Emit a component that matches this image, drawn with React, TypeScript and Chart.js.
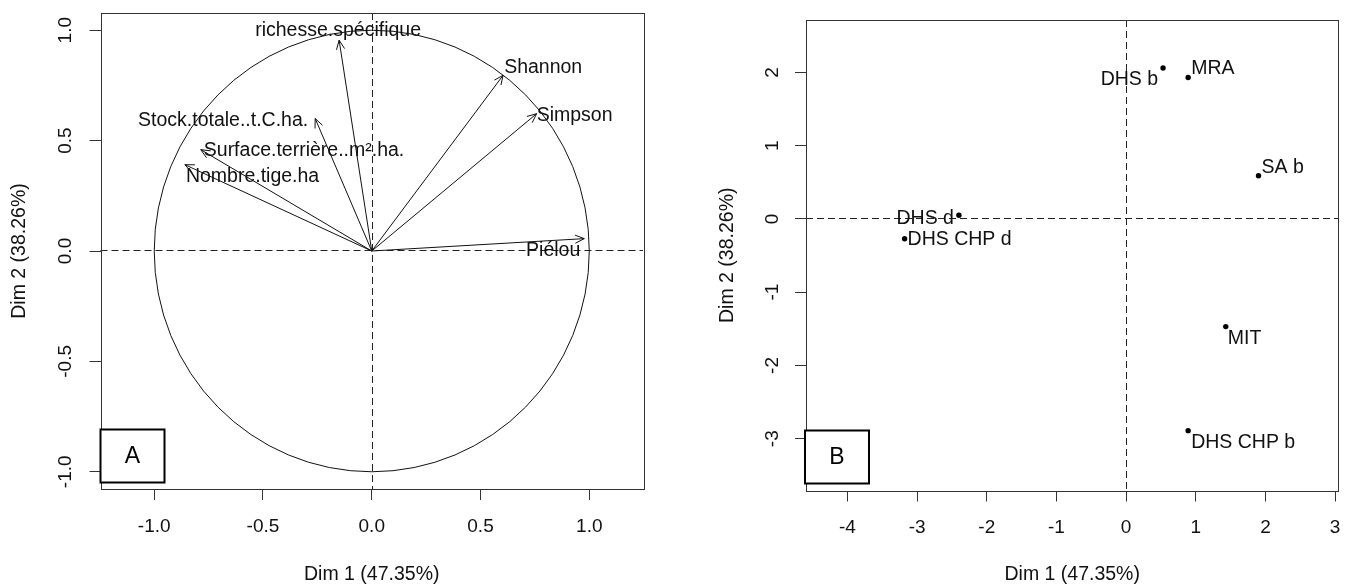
import React, { useEffect, useRef } from "react";
import { Chart, registerables } from "chart.js";

Chart.register(...registerables);

// ---------- Panel A : variables (correlation circle) ----------
const varNames = [
  "richesse.spécifique",
  "Shannon",
  "Simpson",
  "Stock.totale..t.C.ha.",
  "Surface.terrière..m².ha.",
  "Nombre.tige.ha",
  "Piélou",
];
const varDim1 = [-0.15, 0.604, 0.758, -0.26, -0.786, -0.859, 0.977];
const varDim2 = [0.955, 0.796, 0.622, 0.6, 0.459, 0.391, 0.056];
const varLabelAlign = ["center", "left", "left", "right", "left", "left", "right"];
const varLabelShift = [[-1, -10], [1, -8], [0, 2], [-7, 2], [3, 1], [1, 12], [-4, 12]];

const ticksA = [-1, -0.5, 0, 0.5, 1];
const limitsAx = [-1.247, 1.247];
const limitsAy = [-1.078, 1.078];

// ---------- Panel B : individuals ----------
const indNames = ["DHS b", "MRA", "SA b", "DHS d", "DHS CHP d", "MIT", "DHS CHP b"];
const indDim1 = [0.53, 0.89, 1.9, -2.4, -3.18, 1.43, 0.89];
const indDim2 = [2.06, 1.93, 0.59, 0.05, -0.27, -1.47, -2.89];
const indLabelAlign = ["right", "left", "left", "right", "left", "left", "left"];
const indLabelShift = [[-5, 12], [3, -9], [3, -8], [-5, 3], [3, 1], [2, 12], [3, 12]];

const ticksBx = [-4, -3, -2, -1, 0, 1, 2, 3];
const ticksBy = [-3, -2, -1, 0, 1, 2];
const limitsBx = [-4.595, 3.047];
const limitsBy = [-3.707, 2.715];

const xTitle = "Dim 1 (47.35%)";
const yTitle = "Dim 2 (38.26%)";
const panelLetters = ["A", "B"];

const FONT = "'Liberation Sans', Arial, sans-serif";
const INK = "#111";
const FRAME = "#333";

function framePlugin(letter: string, yTicks: number[], fmt: (v: number) => string, yLabelGap: number, boxDx: number, boxDy: number) {
  return {
    id: "frame" + letter,
    beforeDatasetsDraw(chart: any) {
      // dashed reference lines through the origin
      const { ctx, chartArea } = chart;
      const px = Math.round(chart.scales.x.getPixelForValue(0)) + 0.5;
      const py = Math.round(chart.scales.y.getPixelForValue(0)) - 0.5;
      ctx.save();
      ctx.strokeStyle = "#222";
      ctx.lineWidth = 1;
      ctx.setLineDash([7, 4]);
      ctx.beginPath();
      ctx.moveTo(chartArea.left, py);
      ctx.lineTo(chartArea.right, py);
      ctx.moveTo(px, chartArea.top);
      ctx.lineTo(px, chartArea.bottom);
      ctx.stroke();
      ctx.restore();
    },
    afterDraw(chart: any) {
      const { ctx, chartArea } = chart;
      const ys = chart.scales.y;
      ctx.save();
      // frame
      ctx.strokeStyle = FRAME;
      ctx.lineWidth = 1;
      ctx.strokeRect(
        Math.round(chartArea.left) + 0.5,
        Math.round(chartArea.top) + 0.5,
        Math.round(chartArea.right - chartArea.left),
        Math.round(chartArea.bottom - chartArea.top)
      );
      // rotated y tick labels
      ctx.fillStyle = INK;
      ctx.font = `19px ${FONT}`;
      ctx.textAlign = "center";
      ctx.textBaseline = "middle";
      yTicks.forEach((v) => {
        const py = ys.getPixelForValue(v);
        ctx.save();
        ctx.translate(chartArea.left - yLabelGap, py);
        ctx.rotate(-Math.PI / 2);
        ctx.fillText(fmt(v), 0, 0);
        ctx.restore();
      });
      // panel letter box
      const bw = 64, bh = 53;
      const bx = chartArea.left + boxDx;
      const by = chartArea.bottom - boxDy - bh;
      ctx.fillStyle = "#fff";
      ctx.fillRect(bx, by, bw, bh);
      ctx.strokeStyle = "#000";
      ctx.lineWidth = 2;
      ctx.strokeRect(bx, by, bw, bh);
      ctx.fillStyle = "#000";
      ctx.font = `23px ${FONT}`;
      ctx.fillText(letter, bx + bw / 2, by + bh / 2 + 1);
      ctx.restore();
    },
  };
}

function labelPlugin(id: string, names: string[], xs: number[], ys: number[], aligns: string[], shifts: number[][], arrows: boolean) {
  return {
    id,
    beforeDatasetsDraw(chart: any) {
      if (!arrows) return;
      const { ctx } = chart;
      const sx = chart.scales.x, sy = chart.scales.y;
      const cx = sx.getPixelForValue(0), cy = sy.getPixelForValue(0);
      const rx = sx.getPixelForValue(1) - cx;
      const ry = cy - sy.getPixelForValue(1);
      ctx.save();
      ctx.strokeStyle = INK;
      ctx.lineWidth = 1;
      ctx.beginPath();
      ctx.ellipse(cx, cy, rx, ry, 0, 0, Math.PI * 2);
      ctx.stroke();
      ctx.restore();
    },
    afterDatasetsDraw(chart: any) {
      const { ctx } = chart;
      const sx = chart.scales.x, sy = chart.scales.y;
      const ox = sx.getPixelForValue(0), oy = sy.getPixelForValue(0);
      ctx.save();
      ctx.strokeStyle = INK;
      ctx.fillStyle = INK;
      ctx.lineWidth = 1;
      ctx.font = `19.5px ${FONT}`;
      ctx.textBaseline = "middle";
      names.forEach((n, i) => {
        const px = sx.getPixelForValue(xs[i]);
        const py = sy.getPixelForValue(ys[i]);
        if (arrows) {
          const ang = Math.atan2(py - oy, px - ox);
          const L = 10, a = Math.PI / 7.5;
          ctx.beginPath();
          ctx.moveTo(px - L * Math.cos(ang - a), py - L * Math.sin(ang - a));
          ctx.lineTo(px, py);
          ctx.lineTo(px - L * Math.cos(ang + a), py - L * Math.sin(ang + a));
          ctx.stroke();
        }
        ctx.textAlign = aligns[i] as CanvasTextAlign;
        ctx.fillText(n, px + shifts[i][0], py + shifts[i][1]);
      });
      ctx.restore();
    },
  };
}

function axisCommon(min: number, max: number, ticks: number[], fmt: (v: number) => string, showLabels: boolean, title: string, titlePad: any, tickPad: number, fitSize: number, horizontal: boolean) {
  return {
    type: "linear",
    min,
    max,
    afterBuildTicks: (scale: any) => {
      scale.ticks = ticks.map((v) => ({ value: v }));
    },
    afterFit: (scale: any) => {
      if (horizontal) scale.height = fitSize;
      else scale.width = fitSize;
    },
    grid: {
      display: true,
      drawOnChartArea: false,
      drawTicks: true,
      tickLength: 11,
      tickColor: FRAME,
      tickWidth: 1,
      color: FRAME,
    },
    border: { display: false },
    ticks: {
      display: showLabels,
      color: INK,
      font: { family: FONT, size: 19 },
      padding: tickPad,
      maxRotation: 0,
      minRotation: 0,
      autoSkip: false,
      callback: (v: any) => fmt(Number(v)),
    },
    title: {
      display: true,
      text: title,
      color: INK,
      font: { family: FONT, size: 19.5 },
      padding: titlePad,
    },
  };
}

const fmtA = (v: number) => v.toFixed(1);
const fmtB = (v: number) => String(v);

export default function App() {
  const refA = useRef<HTMLCanvasElement>(null);
  const refB = useRef<HTMLCanvasElement>(null);

  useEffect(() => {
    const arrowSets = varNames.map((n, i) => ({
      label: n,
      showLine: true,
      pointRadius: 0,
      borderColor: INK,
      borderWidth: 1,
      data: [{ x: 0, y: 0 }, { x: varDim1[i], y: varDim2[i] }],
    }));
    const chartA = new Chart(refA.current as HTMLCanvasElement, {
      type: "scatter",
      data: { datasets: arrowSets as any },
      options: {
        animation: false,
        responsive: false,
        devicePixelRatio: 1,
        layout: { padding: { left: 0, top: 13, right: 57, bottom: 0 } },
        plugins: { legend: { display: false }, tooltip: { enabled: false } },
        scales: {
          x: axisCommon(limitsAx[0], limitsAx[1], ticksA, fmtA, true, xTitle, { top: 0, bottom: 1.5 }, 15, 99, true),
          y: axisCommon(limitsAy[0], limitsAy[1], ticksA, fmtA, false, yTitle, { top: 7.5, bottom: 0 }, 0, 100.5, false),
        } as any,
      },
      plugins: [
        framePlugin(panelLetters[0], ticksA, fmtA, 35, 0, 6.5),
        labelPlugin("labA", varNames, varDim1, varDim2, varLabelAlign, varLabelShift, true),
      ],
    });

    const chartB = new Chart(refB.current as HTMLCanvasElement, {
      type: "scatter",
      data: {
        datasets: [
          {
            label: "individus",
            data: indNames.map((n, i) => ({ x: indDim1[i], y: indDim2[i] })),
            pointRadius: 2.7,
            pointBackgroundColor: "#000",
            pointBorderColor: "#000",
            borderWidth: 0,
          },
        ] as any,
      },
      options: {
        animation: false,
        responsive: false,
        devicePixelRatio: 1,
        layout: { padding: { left: 0, top: 20, right: 11, bottom: 0 } },
        plugins: { legend: { display: false }, tooltip: { enabled: false } },
        scales: {
          x: axisCommon(limitsBx[0], limitsBx[1], ticksBx, fmtB, true, xTitle, { top: 0, bottom: 1.5 }, 14.5, 97.5, true),
          y: axisCommon(limitsBy[0], limitsBy[1], ticksBy, fmtB, false, yTitle, { top: 16, bottom: 0 }, 0, 106, false),
        } as any,
      },
      plugins: [
        framePlugin(panelLetters[1], ticksBy, fmtB, 33.5, -1, 7),
        labelPlugin("labB", indNames, indDim1, indDim2, indLabelAlign, indLabelShift, false),
      ],
    });

    return () => {
      chartA.destroy();
      chartB.destroy();
    };
  }, []);

  return (
    <div style={{ position: "fixed", left: 0, top: 0, width: 1355, height: 588, background: "#fff" }}>
      <canvas ref={refA} width={700} height={588} style={{ position: "absolute", left: 0, top: 0, width: 700, height: 588 }} />
      <canvas ref={refB} width={655} height={588} style={{ position: "absolute", left: 700, top: 0, width: 655, height: 588 }} />
    </div>
  );
}
